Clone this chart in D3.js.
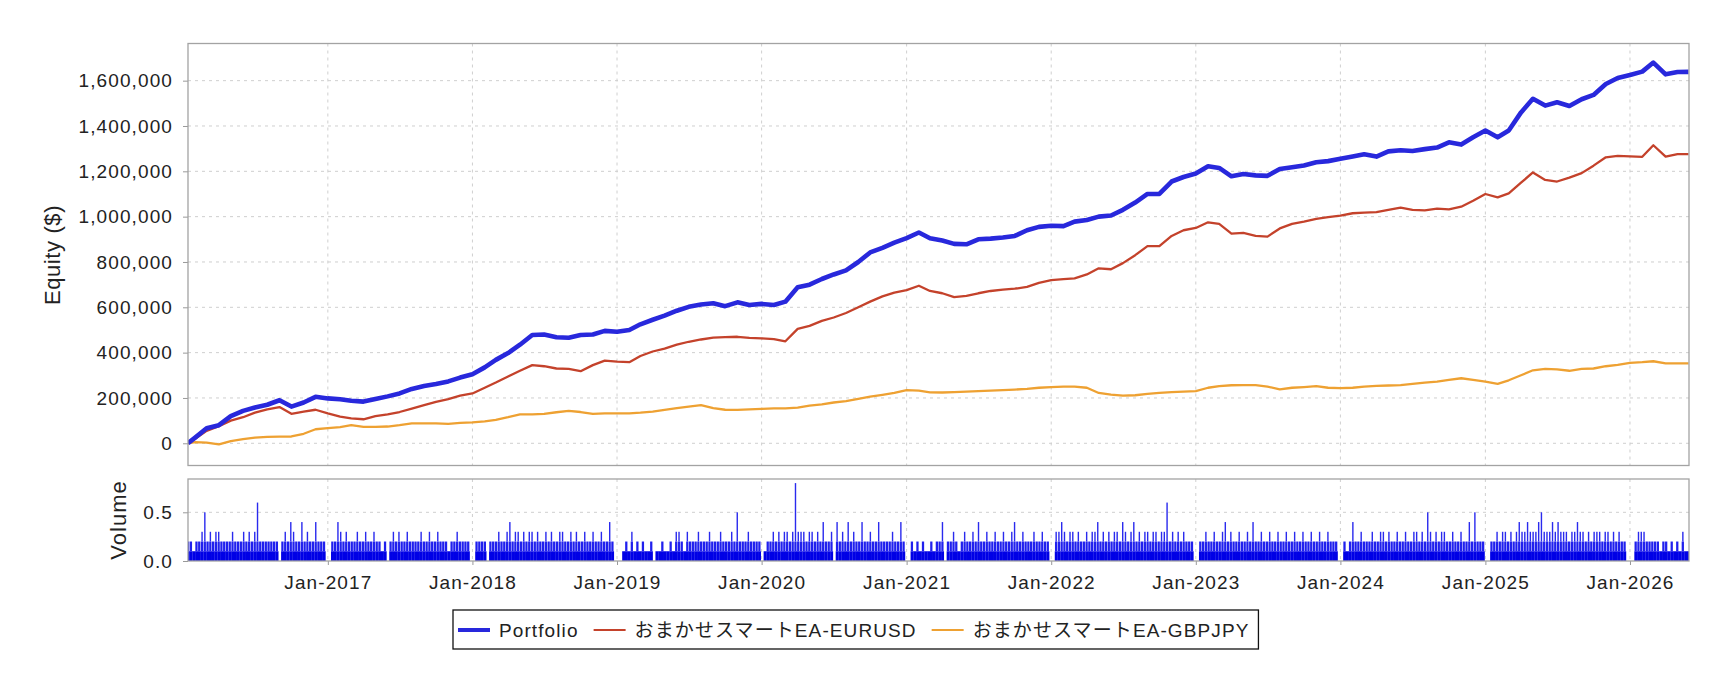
<!DOCTYPE html>
<html>
<head>
<meta charset="utf-8">
<script src="https://cdn.jsdelivr.net/npm/d3@7"></script>
<style>
  body { margin: 0; background: #fff; }
  svg text { font-family: "Liberation Sans", Arial, "Noto Sans CJK JP", sans-serif; fill: #222; }
</style>
</head>
<body>
<svg></svg>
<script>
// series names / colours
const seriesNames = ["Portfolio", "おまかせスマートEA-EURUSD", "おまかせスマートEA-GBPJPY"];
const seriesColors = ["#2828dc", "#c4422b", "#eea132"];

// equity in $ thousands: first value at startDate, then 1st of each month (Feb-2016 .. May-2026), last at endDate
const startDate = "2016-01-14", endDate = "2026-05-29";
const portfolio = [
  0, 25, 66, 80, 120, 143, 158, 170, 190, 162, 180, 205,
  198, 194, 188, 184, 195, 207, 220, 240, 253, 262, 273, 290,
  305, 335, 368, 398, 435, 478, 480, 468, 466, 478, 480, 496,
  492, 500, 525, 545, 563, 585, 602, 612, 618, 605, 622, 610,
  615, 610, 625, 688, 700, 725, 745, 763, 800, 842, 862, 885,
  905, 930, 905, 895, 880, 878, 900, 903, 908, 915, 940, 955,
  960, 958, 978, 985, 1000, 1005, 1030, 1062, 1100, 1100, 1155, 1175,
  1190, 1222, 1215, 1178, 1188, 1182, 1180, 1210, 1218, 1226, 1240, 1245,
  1255, 1265, 1275, 1265, 1288, 1293, 1290, 1298, 1305, 1328, 1318, 1350,
  1380, 1350, 1380, 1460, 1520, 1490, 1505, 1488, 1518, 1537, 1585, 1612,
  1625, 1640, 1680, 1628, 1638, 1639
];
const eurusd = [
  0, 20, 55, 75, 100, 115, 135, 150, 160, 130, 140, 148,
  132, 118, 110, 106, 120, 128, 138, 153, 168, 183, 195, 210,
  220, 245, 268, 295, 320, 345, 340, 330, 328, 318, 345, 365,
  360, 358, 385, 405, 418, 435, 448, 458, 466, 468, 470, 465,
  463, 460, 450, 505, 518, 540, 555, 575, 600, 625, 648, 665,
  676, 695, 672, 662, 645, 650, 662, 672, 678, 682, 690, 708,
  720, 724, 728, 745, 772, 768, 795, 830, 870, 870, 915, 940,
  950, 975, 968, 925, 928, 915, 912, 948, 968, 978, 990, 998,
  1005, 1015, 1018, 1020, 1030, 1040, 1030, 1028, 1035, 1032, 1044, 1070,
  1100, 1085, 1103, 1150, 1195, 1162, 1155, 1172, 1192, 1225, 1262, 1268,
  1266, 1264, 1315, 1265, 1276, 1276
];
const gbpjpy = [
  0, 5, 3, -5, 10, 18, 25, 28, 29, 30, 42, 62,
  67, 71, 80, 72, 72, 74, 80, 88, 88, 88, 86, 90,
  92, 97, 103, 115, 128, 128, 130, 137, 143, 138, 130, 132,
  132, 132, 135, 140, 147, 155, 162, 168, 155, 148, 147, 150,
  152, 154, 154, 157, 166, 172, 180, 186, 196, 206, 214, 222,
  235, 232, 225, 224, 226, 228, 230, 232, 235, 237, 240, 245,
  248, 250, 250, 245, 222, 215, 210, 212, 218, 222, 226, 228,
  230, 245, 252, 256, 257, 257, 250, 238, 245, 248, 252, 245,
  243, 245, 250, 253, 255, 257, 262, 268, 272, 280, 287, 280,
  272, 262, 278, 300, 322, 328, 326, 320, 328, 330, 340, 346,
  355, 358, 362, 353, 353, 353
];

// weekly volume (lots), one value per Monday of each year
const vol2016 = [0,.2,.2,.1,.2,.2,.3,.5,.2,.3, .2,.3,.3,.2,.2,.2,.2,.3,.2,.2, .2,.3,.2,.3,.2,.3,.6,.2,.2,.2, .2,.2,.2,.2,0,.2,.3,.2,.4,.3, .2,.2,.4,.2,.3,.2,.2,.4,.2,.2, .2,0];
const vol2017 = [0,.2,.2,.4,.3,.2,.3,.2,.2,.2, .3,.2,.2,.3,.2,.2,.3,.2,.2,.1, .2,0,.2,.3,.2,.3,.2,.2,.3,.2, .2,.2,.2,.3,.2,.2,.3,.2,.2,.3, .2,.2,.2,.1,.2,.2,.3,.2,.2,.2, .2,0];
const vol2018 = [0,.2,.2,.2,.2,0,.2,.2,.2,.3, .2,.2,.3,.4,.2,.3,.3,.2,.3,.2, .3,.3,.2,.3,.2,.2,.3,.2,.3,.2, .2,.3,.3,.2,.2,.3,.2,.3,.2,.2, .3,.2,.2,.3,.2,.2,.3,.2,.2,.4, .2,0,0];
const vol2019 = [0,.1,.2,.1,.3,.1,.2,.1,.2,.1, .1,.2,0,.1,.1,.2,.1,.1,.2,.1, .3,.3,.2,.1,.3,.2,.2,.2,.3,.2, .2,.2,.3,.2,.2,.2,.3,.2,.2,.2, .3,.2,.5,.2,.2,.2,.3,.2,.2,.2, .2,0];
const vol2020 = [.1,.2,.2,.3,.2,.3,.2,.3,.3,.2, .3,.8,.3,.3,.3,.2,.3,.3,.2,.3, .2,.4,.2,.2,.3,0,.4,.2,.3,.2, .4,.2,.3,.2,.2,.4,.2,.2,.3,.2, .2,.4,.2,.2,.2,.2,.3,.2,.2,.4, .2,0];
const vol2021 = [0,.2,.1,.2,.1,.2,.1,.1,.2,.1, .2,.2,.4,0,.2,.2,.3,.2,.1,.2, .3,.2,.2,.3,.2,.4,.2,.2,.3,.2, .2,.3,.2,.2,.3,.2,.2,.3,.4,.2, .2,.3,.2,.2,.2,.3,.2,.2,.3,.2, .2,0];
const vol2022 = [0,.3,.3,.4,.3,.2,.3,.3,.2,.3, .2,.2,.3,.2,.3,.3,.4,.2,.3,.2, .3,.2,.3,.3,.2,.4,.3,.2,.3,.4, .2,.3,.2,.3,.3,.2,.3,.3,.2,.3, .3,.6,.2,.3,.2,.3,.2,.3,.2,.2, .2,0];
const vol2023 = [0,.2,.2,.3,.2,.2,.3,.2,.2,.3, .4,.2,.3,.2,.2,.3,.2,.2,.3,.2, .4,.2,.2,.3,.2,.2,.3,.2,.2,.3, .2,.2,.3,.2,.2,.3,.2,.2,.3,.2, .2,.3,.2,.2,.3,.2,.2,.3,.2,.2, .2,0];
const vol2024 = [0,.2,.1,.2,.4,.2,.2,.3,.2,.2, .2,.3,.2,.2,.3,.3,.2,.3,.2,.2, .3,.2,.2,.3,.2,.2,.3,.3,.2,.3, .2,.5,.3,.2,.3,.2,.3,.3,.2,.2, .3,.2,.2,.3,.2,.2,.4,.2,.5,.2, .2,.2,0];
const vol2025 = [0,.2,.2,.3,.2,.3,.3,.2,.3,.2, .3,.4,.3,.3,.4,.3,.3,.3,.4,.5, .3,.3,.3,.4,.3,.4,.3,.3,.3,.2, .3,.3,.4,.3,.3,.2,.3,.2,.3,.3, .3,.2,.3,.3,.2,.3,.2,.3,.2,.2, 0,0];
const vol2026 = [0,.2,.3,.3,.3,.2,.2,.2,.2,.2, .1,.2,.2,.1,.2,.1,.2,.1,.3,.1, .1];
const volumeYears = [2016, 2017, 2018, 2019, 2020, 2021, 2022, 2023, 2024, 2025, 2026];
const volumeLists = [vol2016, vol2017, vol2018, vol2019, vol2020, vol2021, vol2022, vol2023, vol2024, vol2025, vol2026];

// tick values
const equityTicks = [0, 200, 400, 600, 800, 1000, 1200, 1400, 1600]; // $ thousands
const volumeTicks = [0, 0.5];
const yearTicks = [2017, 2018, 2019, 2020, 2021, 2022, 2023, 2024, 2025, 2026];

let width = 1728, height = 680;
let svg = d3.select("svg").attr("width", width).attr("height", height);

let left = 188, right = 1689;
let mainTop = 43.5, mainBottom = 465.5;
let volTop = 479, volBottom = 561;

let parse = d3.timeParse("%Y-%m-%d");
let eqDates = [parse(startDate)]
  .concat(d3.timeMonth.range(new Date(2016, 1, 1), new Date(2026, 5, 1)))
  .concat([parse(endDate)]);

let x = d3.scaleTime()
  .domain([new Date(2016, 0, 14), new Date(2026, 4, 30)])
  .range([left, right]);
let y = d3.scaleLinear().domain([-98, 1764]).range([mainBottom, mainTop]);
let yv = d3.scaleLinear().domain([0, 0.842]).range([volBottom, volTop]);

let yearDates = yearTicks.map(yr => new Date(yr, 0, 1));

// clip paths
let defs = svg.append("defs");
defs.append("clipPath").attr("id", "clipMain").append("rect")
  .attr("x", left).attr("y", mainTop).attr("width", right - left).attr("height", mainBottom - mainTop);
defs.append("clipPath").attr("id", "clipVol").append("rect")
  .attr("x", left).attr("y", volTop).attr("width", right - left).attr("height", volBottom - volTop);

// grid lines
function grid(g, yScale, ticks, top, bottom) {
  g.selectAll(".vg").data(yearDates).enter().append("line")
    .attr("x1", d => x(d)).attr("x2", d => x(d))
    .attr("y1", top).attr("y2", bottom);
  g.selectAll(".hg").data(ticks).enter().append("line")
    .attr("x1", left).attr("x2", right)
    .attr("y1", d => yScale(d)).attr("y2", d => yScale(d));
  g.selectAll("line")
    .attr("stroke", "#cfcfcf").attr("stroke-width", 1).attr("stroke-dasharray", "3,4");
}
grid(svg.append("g"), y, equityTicks, mainTop, mainBottom);
grid(svg.append("g"), yv, volumeTicks.filter(d => d > 0), volTop, volBottom);

// equity lines
let lineGen = d3.line()
  .x((d, i) => x(eqDates[i]))
  .y(d => y(d));
let lineG = svg.append("g").attr("clip-path", "url(#clipMain)");
let drawOrder = [
  { data: gbpjpy, color: seriesColors[2], w: 2.3 },
  { data: eurusd, color: seriesColors[1], w: 2.3 },
  { data: portfolio, color: seriesColors[0], w: 4.6 }
];
drawOrder.forEach(s => {
  lineG.append("path")
    .datum(s.data)
    .attr("d", lineGen)
    .attr("fill", "none")
    .attr("stroke", s.color)
    .attr("stroke-width", s.w)
    .attr("stroke-linejoin", "round");
});

// volume bars
let weeks = [];
volumeYears.forEach((yr, k) => {
  let mondays = d3.timeMonday.range(new Date(yr, 0, 1), new Date(yr + 1, 0, 1));
  volumeLists[k].forEach((v, i) => {
    if (mondays[i]) weeks.push({ date: mondays[i], v: v });
  });
});
let volG = svg.append("g").attr("clip-path", "url(#clipVol)");
weeks.filter(d => d.v > 0).forEach(d => {
  let x0 = x(d.date), x1 = x(d3.timeDay.offset(d.date, 7));
  let w = x1 - x0;
  volG.append("rect")
    .attr("x", x0).attr("width", w + 0.2)
    .attr("y", yv(Math.min(d.v, 0.1))).attr("height", yv(0) - yv(Math.min(d.v, 0.1)))
    .attr("fill", "#0000e6");
  if (d.v > 0.1) {
    volG.append("rect")
      .attr("x", x0 + 0.2).attr("width", w - 0.5)
      .attr("y", yv(Math.min(d.v, 0.2))).attr("height", yv(0.1) - yv(Math.min(d.v, 0.2)))
      .attr("fill", "#2020ee");
  }
  if (d.v > 0.2) {
    volG.append("rect")
      .attr("x", x0 + w / 2 - 0.7).attr("width", 1.4)
      .attr("y", yv(d.v)).attr("height", yv(0.2) - yv(d.v))
      .attr("fill", "#2a2aee");
  }
});

// axes
let fmtEq = d => d3.format(",")(d * 1000);
let yAxis = d3.axisLeft(y).tickValues(equityTicks).tickFormat(fmtEq).tickSize(5).tickPadding(10);
let yvAxis = d3.axisLeft(yv).tickValues(volumeTicks).tickFormat(d3.format(".1f")).tickSize(5).tickPadding(10);
let xAxis = d3.axisBottom(x).tickValues(yearDates).tickFormat(d3.timeFormat("%b-%Y")).tickSize(4).tickPadding(11);

function styleAxis(g) {
  g.select(".domain").remove();
  g.selectAll(".tick line").attr("stroke", "#999");
  g.selectAll("text")
    .style("font-size", "19px")
    .style("letter-spacing", "1.1px")
    .attr("fill", "#222");
}
svg.append("g").attr("transform", "translate(" + left + ",0)").call(yAxis).call(styleAxis);
svg.append("g").attr("transform", "translate(" + left + ",0)").call(yvAxis).call(styleAxis);
svg.append("g").attr("transform", "translate(0," + volBottom + ")").call(xAxis).call(styleAxis);

// plot frames
[[mainTop, mainBottom], [volTop, volBottom]].forEach(p => {
  svg.append("rect")
    .attr("x", left).attr("y", p[0])
    .attr("width", right - left).attr("height", p[1] - p[0])
    .attr("fill", "none").attr("stroke", "#a3a3a3").attr("stroke-width", 1.3);
});

// axis titles
svg.append("text")
  .attr("transform", "translate(60,255) rotate(-90)")
  .attr("text-anchor", "middle")
  .style("font-size", "22px")
  .style("letter-spacing", "0.6px")
  .text("Equity ($)");
svg.append("text")
  .attr("transform", "translate(126,520) rotate(-90)")
  .attr("text-anchor", "middle")
  .style("font-size", "22px")
  .style("letter-spacing", "1px")
  .text("Volume");

// legend
let legend = svg.append("g");
let lx = 458, ly = 630;
seriesNames.forEach((name, i) => {
  legend.append("line")
    .attr("x1", lx).attr("x2", lx + 32)
    .attr("y1", ly).attr("y2", ly)
    .attr("stroke", seriesColors[i])
    .attr("stroke-width", i == 0 ? 4 : 2);
  let t = legend.append("text")
    .attr("x", lx + 41).attr("y", ly)
    .attr("dy", "0.35em")
    .style("font-size", "19px")
    .style("letter-spacing", "1.1px")
    .text(name);
  lx = lx + 41 + t.node().getComputedTextLength() + 15;
});
legend.insert("rect", ":first-child")
  .attr("x", 453).attr("y", 610)
  .attr("width", lx - 15 + 9 - 453).attr("height", 39)
  .attr("fill", "#fff").attr("stroke", "#111").attr("stroke-width", 1.3);
</script>
</body>
</html>
